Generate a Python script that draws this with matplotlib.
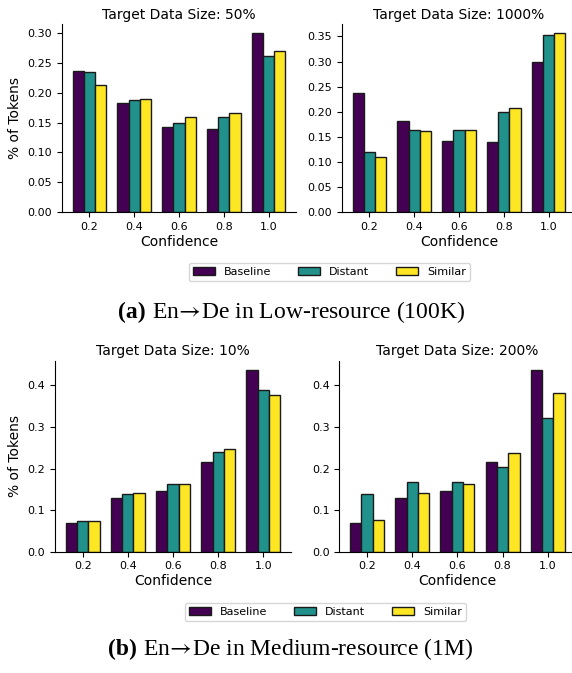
import numpy as np
import matplotlib
matplotlib.use("Agg")
import matplotlib.pyplot as plt

plt.rcParams["mathtext.fontset"] = "stix"

confidence = ["0.2", "0.4", "0.6", "0.8", "1.0"]
systems = ["Baseline", "Distant", "Similar"]
colors = ["#440154", "#21918c", "#fde725"]

# (a) low-resource
low_50_baseline = [0.237, 0.182, 0.142, 0.140, 0.299]
low_50_distant = [0.235, 0.188, 0.150, 0.160, 0.261]
low_50_similar = [0.213, 0.190, 0.160, 0.166, 0.269]

low_1000_baseline = [0.237, 0.182, 0.142, 0.140, 0.299]
low_1000_distant = [0.120, 0.163, 0.163, 0.199, 0.353]
low_1000_similar = [0.110, 0.162, 0.163, 0.208, 0.356]

# (b) medium-resource
med_10_baseline = [0.070, 0.130, 0.146, 0.216, 0.437]
med_10_distant = [0.073, 0.138, 0.162, 0.239, 0.388]
med_10_similar = [0.073, 0.141, 0.164, 0.248, 0.376]

med_200_baseline = [0.070, 0.130, 0.146, 0.216, 0.437]
med_200_distant = [0.138, 0.167, 0.168, 0.204, 0.322]
med_200_similar = [0.076, 0.142, 0.164, 0.237, 0.382]

W, H = 572, 673
fig = plt.figure(figsize=(W / 100, H / 100), dpi=100)


def px_axes(x0, x1, y0, y1):
    # pixel box (top-left origin) -> figure axes
    return fig.add_axes([x0 / W, 1 - y1 / H, (x1 - x0) / W, (y1 - y0) / H])


def draw_panel(ax, title, series, ylabel=True):
    x = np.arange(len(confidence))
    width = 0.25
    for i, (vals, c, name) in enumerate(zip(series, colors, systems)):
        ax.bar(x + (i - 1) * width, vals, width, color=c, edgecolor="#1a1a1a",
               linewidth=1.0, label=name)
    ax.set_xticks(x)
    ax.set_xticklabels(confidence)
    ax.tick_params(labelsize=8)
    ax.set_xlabel("Confidence", fontsize=10, labelpad=2)
    if ylabel:
        ax.set_ylabel("% of Tokens", fontsize=10)
    ax.set_title(title, fontsize=10, pad=4)
    ax.spines["top"].set_visible(False)
    ax.spines["right"].set_visible(False)


ax_tl = px_axes(62, 296, 24.5, 212.3)
ax_tr = px_axes(342, 576, 24.5, 212.3)
ax_bl = px_axes(55, 291, 361, 551.7)
ax_br = px_axes(339.3, 575.5, 361, 551.7)

draw_panel(ax_tl, "Target Data Size: 50%",
           [low_50_baseline, low_50_distant, low_50_similar])
draw_panel(ax_tr, "Target Data Size: 1000%",
           [low_1000_baseline, low_1000_distant, low_1000_similar], ylabel=False)
draw_panel(ax_bl, "Target Data Size: 10%",
           [med_10_baseline, med_10_distant, med_10_similar])
draw_panel(ax_br, "Target Data Size: 200%",
           [med_200_baseline, med_200_distant, med_200_similar], ylabel=False)

handles, labels = ax_tl.get_legend_handles_labels()
fig.legend(handles, labels, ncol=3, fontsize=8, loc="center", columnspacing=2.4,
           bbox_to_anchor=(329.5 / W, 1 - 272 / H))
fig.legend(handles, labels, ncol=3, fontsize=8, loc="center", columnspacing=2.4,
           bbox_to_anchor=(325.5 / W, 1 - 612 / H))

serif = ["Liberation Serif", "DejaVu Serif"]
arrow = r"$\!\rightarrow\!$"
fig.text(146 / W, 1 - 312 / H, "(a)", fontsize=17, fontweight="bold",
         family=serif, ha="right", va="center")
fig.text(152 / W, 1 - 312 / H, "En" + arrow + "De in Low-resource (100K)",
         fontsize=17, family=serif, ha="left", va="center")
fig.text(137 / W, 1 - 649 / H, "(b)", fontsize=17, fontweight="bold",
         family=serif, ha="right", va="center")
fig.text(143 / W, 1 - 649 / H, "En" + arrow + "De in Medium-resource (1M)",
         fontsize=17, family=serif, ha="left", va="center")

fig.savefig("out.png", dpi=100)
